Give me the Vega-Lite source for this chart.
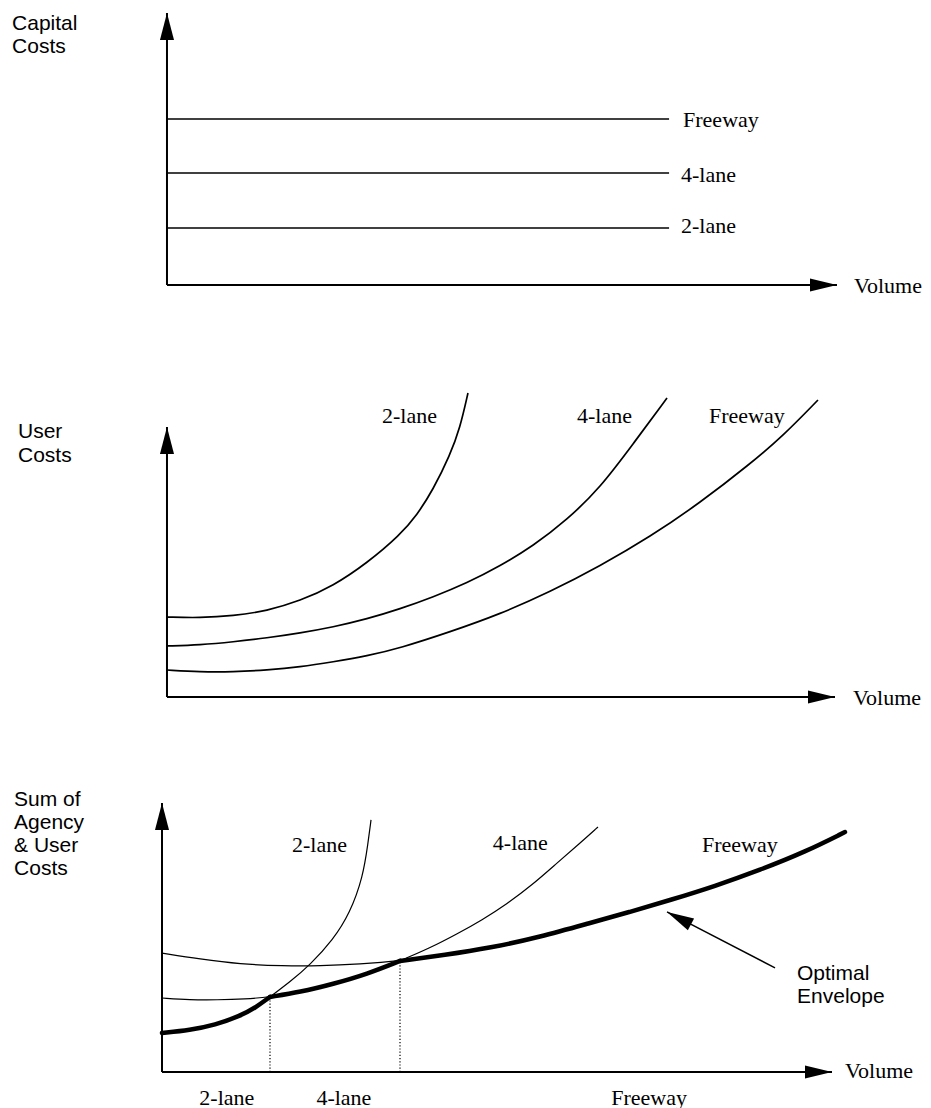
{
  "$schema": "https://vega.github.io/schema/vega-lite/v6.json",
  "background": "white",
  "padding": {"left": 12, "top": 12, "right": 5, "bottom": 0},
  "bounds": "flush",
  "spacing": 106,
  "config": {"view": {"stroke": null}},
  "vconcat": [
    {
      "width": 670,
      "height": 272,
      "encoding": {
        "x": {"field": "volume", "type": "quantitative", "scale": {"domain": [-0.75, 100], "nice": false, "zero": false}, "axis": null},
        "y": {"field": "cost", "type": "quantitative", "scale": {"domain": [0, 100], "nice": false, "zero": false}, "axis": null}
      },
      "layer": [
        {
          "data": {"values": [
            {"road": "Freeway", "volume": 0, "volume_end": 75.5, "cost": 61.0},
            {"road": "4-lane", "volume": 0, "volume_end": 75.5, "cost": 41.2},
            {"road": "2-lane", "volume": 0, "volume_end": 75.5, "cost": 21.0}
          ]},
          "mark": {"type": "rule", "color": "black", "strokeWidth": 1.5},
          "encoding": {"x2": {"field": "volume_end"}}
        },
        {
          "data": {"values": [
            {"part": "Capital Costs axis", "volume": 0, "cost": 0, "volume_end": 0, "cost_end": 100},
            {"part": "Volume axis", "volume": 0, "cost": 0, "volume_end": 100.75, "cost_end": 0}
          ]},
          "mark": {"type": "rule", "color": "black", "strokeWidth": 2},
          "encoding": {"x2": {"field": "volume_end"}, "y2": {"field": "cost_end"}}
        },
        {
          "data": {"values": [
            {"direction": "up", "volume": 0, "cost": 100},
            {"direction": "right", "volume": 100.75, "cost": 0}
          ]},
          "mark": {"type": "point", "filled": true, "color": "black", "opacity": 1, "size": 729},
          "encoding": {"shape": {"field": "direction", "type": "nominal", "scale": {"domain": ["up", "right"], "range": ["M0,0L0.52,2L-0.52,2Z", "M0,0L-2,-0.48L-2,0.48Z"]}, "legend": null}}
        },
        {
          "data": {"values": [
            {"label": "Freeway", "volume": 77.6, "cost": 58.1},
            {"label": "4-lane", "volume": 77.3, "cost": 37.9},
            {"label": "2-lane", "volume": 77.3, "cost": 19.1},
            {"label": "Volume", "volume": 103.3, "cost": -2.9}
          ]},
          "mark": {"type": "text", "align": "left", "baseline": "alphabetic", "font": "Liberation Serif", "fontSize": 22, "color": "black"},
          "encoding": {"text": {"field": "label"}}
        },
        {
          "data": {"values": [{"label": "Capital\nCosts", "volume": -23.3, "cost": 93.75}]},
          "mark": {"type": "text", "align": "left", "baseline": "alphabetic", "font": "Liberation Sans", "fontSize": 21, "lineBreak": "\n", "lineHeight": 23, "color": "black"},
          "encoding": {"text": {"field": "label"}}
        }
      ]
    },
    {
      "width": 670,
      "height": 306,
      "encoding": {
        "x": {"field": "volume", "type": "quantitative", "scale": {"domain": [-0.75, 100], "nice": false, "zero": false}, "axis": null},
        "y": {"field": "cost", "type": "quantitative", "scale": {"domain": [0, 113.33], "nice": false, "zero": false}, "axis": null}
      },
      "layer": [
        {
          "data": {"values": [
            {"road": "2-lane", "volume": 0, "cost": 29.6},
            {"road": "2-lane", "volume": 4.96, "cost": 29.3},
            {"road": "2-lane", "volume": 9.92, "cost": 30.0},
            {"road": "2-lane", "volume": 15.04, "cost": 31.9},
            {"road": "2-lane", "volume": 20, "cost": 35.6},
            {"road": "2-lane", "volume": 24.96, "cost": 41.1},
            {"road": "2-lane", "volume": 30.08, "cost": 49.6},
            {"road": "2-lane", "volume": 35.04, "cost": 60.0},
            {"road": "2-lane", "volume": 37.59, "cost": 67.4},
            {"road": "2-lane", "volume": 40, "cost": 76.7},
            {"road": "2-lane", "volume": 42.56, "cost": 89.6},
            {"road": "2-lane", "volume": 44.06, "cost": 99.6},
            {"road": "2-lane", "volume": 45.26, "cost": 112.6},
            {"road": "4-lane", "volume": 0, "cost": 18.9},
            {"road": "4-lane", "volume": 4.96, "cost": 19.3},
            {"road": "4-lane", "volume": 9.92, "cost": 20.4},
            {"road": "4-lane", "volume": 15.04, "cost": 21.9},
            {"road": "4-lane", "volume": 20, "cost": 23.7},
            {"road": "4-lane", "volume": 24.96, "cost": 25.9},
            {"road": "4-lane", "volume": 30.08, "cost": 28.9},
            {"road": "4-lane", "volume": 35.04, "cost": 32.6},
            {"road": "4-lane", "volume": 40, "cost": 37.0},
            {"road": "4-lane", "volume": 45.11, "cost": 42.2},
            {"road": "4-lane", "volume": 50.08, "cost": 48.5},
            {"road": "4-lane", "volume": 55.04, "cost": 55.9},
            {"road": "4-lane", "volume": 60.15, "cost": 65.6},
            {"road": "4-lane", "volume": 65.11, "cost": 77.4},
            {"road": "4-lane", "volume": 70.08, "cost": 93.7},
            {"road": "4-lane", "volume": 75.19, "cost": 110.7},
            {"road": "Freeway", "volume": 0, "cost": 10.0},
            {"road": "Freeway", "volume": 4.96, "cost": 9.3},
            {"road": "Freeway", "volume": 9.92, "cost": 9.3},
            {"road": "Freeway", "volume": 15.04, "cost": 10.0},
            {"road": "Freeway", "volume": 20, "cost": 11.1},
            {"road": "Freeway", "volume": 24.96, "cost": 13.0},
            {"road": "Freeway", "volume": 30.08, "cost": 15.2},
            {"road": "Freeway", "volume": 35.04, "cost": 18.1},
            {"road": "Freeway", "volume": 42.56, "cost": 24.1},
            {"road": "Freeway", "volume": 50.08, "cost": 30.7},
            {"road": "Freeway", "volume": 57.59, "cost": 38.9},
            {"road": "Freeway", "volume": 65.11, "cost": 48.5},
            {"road": "Freeway", "volume": 72.63, "cost": 59.3},
            {"road": "Freeway", "volume": 80.15, "cost": 71.9},
            {"road": "Freeway", "volume": 87.67, "cost": 86.3},
            {"road": "Freeway", "volume": 92.63, "cost": 96.7},
            {"road": "Freeway", "volume": 97.89, "cost": 110.0}
          ]},
          "mark": {"type": "line", "interpolate": "basis", "color": "black", "strokeWidth": 1.7},
          "encoding": {"detail": {"field": "road"}}
        },
        {
          "data": {"values": [
            {"part": "User Costs axis", "volume": 0, "cost": 0, "volume_end": 0, "cost_end": 100},
            {"part": "Volume axis", "volume": 0, "cost": 0, "volume_end": 100.45, "cost_end": 0}
          ]},
          "mark": {"type": "rule", "color": "black", "strokeWidth": 2},
          "encoding": {"x2": {"field": "volume_end"}, "y2": {"field": "cost_end"}}
        },
        {
          "data": {"values": [
            {"direction": "up", "volume": 0, "cost": 100},
            {"direction": "right", "volume": 100.45, "cost": 0}
          ]},
          "mark": {"type": "point", "filled": true, "color": "black", "opacity": 1, "size": 729},
          "encoding": {"shape": {"field": "direction", "type": "nominal", "scale": {"domain": ["up", "right"], "range": ["M0,0L0.52,2L-0.52,2Z", "M0,0L-2,-0.48L-2,0.48Z"]}, "legend": null}}
        },
        {
          "data": {"values": [
            {"label": "2-lane", "volume": 32.33, "cost": 101.5},
            {"label": "4-lane", "volume": 61.65, "cost": 101.5},
            {"label": "Freeway", "volume": 81.5, "cost": 101.5},
            {"label": "Volume", "volume": 103.16, "cost": -3.0}
          ]},
          "mark": {"type": "text", "align": "left", "baseline": "alphabetic", "font": "Liberation Serif", "fontSize": 22, "color": "black"},
          "encoding": {"text": {"field": "label"}}
        },
        {
          "data": {"values": [{"label": "User\nCosts", "volume": -22.4, "cost": 95.9}]},
          "mark": {"type": "text", "align": "left", "baseline": "alphabetic", "font": "Liberation Sans", "fontSize": 21, "lineBreak": "\n", "lineHeight": 24, "color": "black"},
          "encoding": {"text": {"field": "label"}}
        }
      ]
    },
    {
      "width": 670,
      "height": 269,
      "encoding": {
        "x": {"field": "volume", "type": "quantitative", "scale": {"domain": [-0.75, 100], "nice": false, "zero": false}, "axis": null},
        "y": {"field": "cost", "type": "quantitative", "scale": {"domain": [0, 100], "nice": false, "zero": false}, "axis": null}
      },
      "layer": [
        {
          "data": {"values": [
            {"road": "2-lane", "volume": -0.75, "cost": 14.5},
            {"road": "2-lane", "volume": 3.46, "cost": 15.6},
            {"road": "2-lane", "volume": 7.22, "cost": 17.5},
            {"road": "2-lane", "volume": 10.98, "cost": 20.8},
            {"road": "2-lane", "volume": 13.23, "cost": 23.8},
            {"road": "2-lane", "volume": 15.49, "cost": 27.9},
            {"road": "2-lane", "volume": 18.5, "cost": 33.5},
            {"road": "2-lane", "volume": 21.5, "cost": 39.8},
            {"road": "2-lane", "volume": 24.96, "cost": 49.1},
            {"road": "2-lane", "volume": 27.52, "cost": 59.1},
            {"road": "2-lane", "volume": 29.47, "cost": 72.5},
            {"road": "2-lane", "volume": 30.23, "cost": 85.1},
            {"road": "2-lane", "volume": 30.68, "cost": 93.7},
            {"road": "4-lane", "volume": -0.75, "cost": 27.5},
            {"road": "4-lane", "volume": 3.46, "cost": 26.8},
            {"road": "4-lane", "volume": 7.52, "cost": 26.8},
            {"road": "4-lane", "volume": 11.73, "cost": 27.1},
            {"road": "4-lane", "volume": 15.49, "cost": 27.9},
            {"road": "4-lane", "volume": 20, "cost": 29.7},
            {"road": "4-lane", "volume": 24.96, "cost": 32.7},
            {"road": "4-lane", "volume": 30.08, "cost": 36.4},
            {"road": "4-lane", "volume": 35.04, "cost": 41.3},
            {"road": "4-lane", "volume": 39.55, "cost": 46.1},
            {"road": "4-lane", "volume": 43.61, "cost": 51.3},
            {"road": "4-lane", "volume": 47.37, "cost": 56.5},
            {"road": "4-lane", "volume": 51.13, "cost": 62.5},
            {"road": "4-lane", "volume": 54.89, "cost": 69.5},
            {"road": "4-lane", "volume": 58.65, "cost": 77.7},
            {"road": "4-lane", "volume": 62.11, "cost": 85.1},
            {"road": "4-lane", "volume": 64.81, "cost": 91.1},
            {"road": "Freeway", "volume": -0.75, "cost": 44.2},
            {"road": "Freeway", "volume": 4.96, "cost": 42.0},
            {"road": "Freeway", "volume": 10.98, "cost": 40.1},
            {"road": "Freeway", "volume": 17.44, "cost": 39.4},
            {"road": "Freeway", "volume": 23.0, "cost": 39.4},
            {"road": "Freeway", "volume": 29.02, "cost": 40.1},
            {"road": "Freeway", "volume": 35.04, "cost": 41.3},
            {"road": "Freeway", "volume": 41.8, "cost": 43.5},
            {"road": "Freeway", "volume": 48.57, "cost": 46.1},
            {"road": "Freeway", "volume": 56.09, "cost": 50.2},
            {"road": "Freeway", "volume": 63.6, "cost": 55.4},
            {"road": "Freeway", "volume": 69.62, "cost": 59.5},
            {"road": "Freeway", "volume": 75.64, "cost": 63.9},
            {"road": "Freeway", "volume": 82.4, "cost": 69.1},
            {"road": "Freeway", "volume": 89.17, "cost": 75.1},
            {"road": "Freeway", "volume": 95.94, "cost": 81.8},
            {"road": "Freeway", "volume": 101.95, "cost": 89.2}
          ]},
          "mark": {"type": "line", "interpolate": "basis", "color": "black", "strokeWidth": 1.2},
          "encoding": {"detail": {"field": "road"}}
        },
        {
          "data": {"values": [
            {"segment": "2-lane", "volume": -0.75, "cost": 14.5},
            {"segment": "2-lane", "volume": 3.46, "cost": 15.6},
            {"segment": "2-lane", "volume": 7.22, "cost": 17.5},
            {"segment": "2-lane", "volume": 10.98, "cost": 20.8},
            {"segment": "2-lane", "volume": 13.23, "cost": 23.8},
            {"segment": "2-lane", "volume": 15.49, "cost": 27.9},
            {"segment": "4-lane", "volume": 15.49, "cost": 27.9},
            {"segment": "4-lane", "volume": 20, "cost": 29.7},
            {"segment": "4-lane", "volume": 24.96, "cost": 32.7},
            {"segment": "4-lane", "volume": 30.08, "cost": 36.4},
            {"segment": "4-lane", "volume": 35.04, "cost": 41.3},
            {"segment": "Freeway", "volume": 35.04, "cost": 41.3},
            {"segment": "Freeway", "volume": 41.8, "cost": 43.5},
            {"segment": "Freeway", "volume": 48.57, "cost": 46.1},
            {"segment": "Freeway", "volume": 56.09, "cost": 50.2},
            {"segment": "Freeway", "volume": 63.6, "cost": 55.4},
            {"segment": "Freeway", "volume": 69.62, "cost": 59.5},
            {"segment": "Freeway", "volume": 75.64, "cost": 63.9},
            {"segment": "Freeway", "volume": 82.4, "cost": 69.1},
            {"segment": "Freeway", "volume": 89.17, "cost": 75.1},
            {"segment": "Freeway", "volume": 95.94, "cost": 81.8},
            {"segment": "Freeway", "volume": 101.95, "cost": 89.2}
          ]},
          "mark": {"type": "line", "interpolate": "basis", "color": "black", "strokeWidth": 4.5, "strokeCap": "round", "strokeJoin": "round"},
          "encoding": {"detail": {"field": "segment"}}
        },
        {
          "data": {"values": [
            {"switch": "2-lane to 4-lane", "volume": 15.49, "cost": 0, "volume_end": 15.49, "cost_end": 27.9},
            {"switch": "4-lane to Freeway", "volume": 35.04, "cost": 0, "volume_end": 35.04, "cost_end": 41.3}
          ]},
          "mark": {"type": "rule", "color": "black", "strokeWidth": 1.2, "strokeDash": [1.2, 2]},
          "encoding": {"x2": {"field": "volume_end"}, "y2": {"field": "cost_end"}}
        },
        {
          "data": {"values": [
            {"part": "Sum axis", "volume": -0.75, "cost": 0, "volume_end": -0.75, "cost_end": 100},
            {"part": "Volume axis", "volume": -0.75, "cost": 0, "volume_end": 100, "cost_end": 0}
          ]},
          "mark": {"type": "rule", "color": "black", "strokeWidth": 2},
          "encoding": {"x2": {"field": "volume_end"}, "y2": {"field": "cost_end"}}
        },
        {
          "data": {"values": [
            {"part": "Optimal Envelope pointer", "volume": 91.43, "cost": 38.7, "volume_end": 75.19, "cost_end": 59.5}
          ]},
          "mark": {"type": "rule", "color": "black", "strokeWidth": 1.5},
          "encoding": {"x2": {"field": "volume_end"}, "y2": {"field": "cost_end"}}
        },
        {
          "data": {"values": [
            {"direction": "up", "volume": -0.75, "cost": 100},
            {"direction": "right", "volume": 100, "cost": 0}
          ]},
          "mark": {"type": "point", "filled": true, "color": "black", "opacity": 1, "size": 729},
          "encoding": {"shape": {"field": "direction", "type": "nominal", "scale": {"domain": ["up", "right"], "range": ["M0,0L0.52,2L-0.52,2Z", "M0,0L-2,-0.48L-2,0.48Z"]}, "legend": null}}
        },
        {
          "data": {"values": [{"part": "Optimal Envelope pointer head", "volume": 75.19, "cost": 59.5}]},
          "mark": {"type": "point", "filled": true, "color": "black", "opacity": 1, "size": 729, "shape": "M0,0L2,-0.5L2,0.5Z", "angle": 27.4}
        },
        {
          "data": {"values": [
            {"label": "2-lane", "volume": 18.8, "cost": 81.8},
            {"label": "4-lane", "volume": 49.0, "cost": 82.5},
            {"label": "Freeway", "volume": 80.45, "cost": 81.8},
            {"label": "Volume", "volume": 101.95, "cost": -2.2}
          ]},
          "mark": {"type": "text", "align": "left", "baseline": "alphabetic", "font": "Liberation Serif", "fontSize": 22, "color": "black"},
          "encoding": {"text": {"field": "label"}}
        },
        {
          "data": {"values": [
            {"label": "2-lane", "volume": 9.0, "cost": -12.3},
            {"label": "4-lane", "volume": 26.6, "cost": -12.3},
            {"label": "Freeway", "volume": 72.5, "cost": -12.3}
          ]},
          "mark": {"type": "text", "align": "center", "baseline": "alphabetic", "font": "Liberation Serif", "fontSize": 22, "color": "black"},
          "encoding": {"text": {"field": "label"}}
        },
        {
          "data": {"values": [
            {"label": "Sum of\nAgency\n& User\nCosts", "volume": -23.0, "cost": 98.9},
            {"label": "Optimal\nEnvelope", "volume": 94.74, "cost": 34.2}
          ]},
          "mark": {"type": "text", "align": "left", "baseline": "alphabetic", "font": "Liberation Sans", "fontSize": 21, "lineBreak": "\n", "lineHeight": 23, "color": "black"},
          "encoding": {"text": {"field": "label"}}
        }
      ]
    }
  ]
}
